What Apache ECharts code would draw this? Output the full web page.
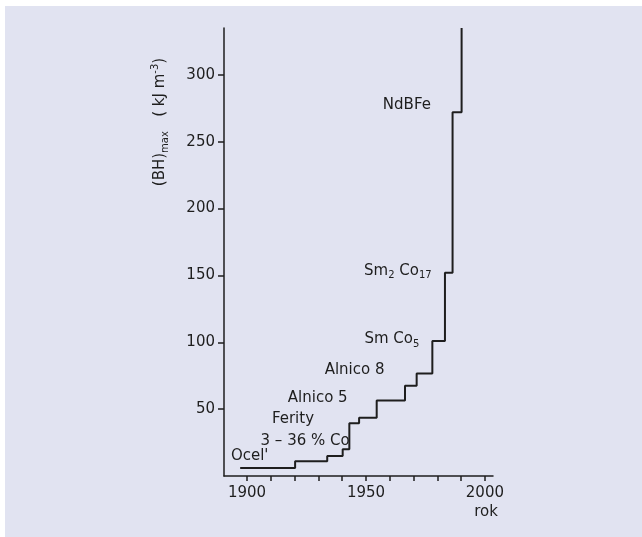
<!DOCTYPE html>
<html lang="sk">
  <head>
    <meta charset="UTF-8" />
    <title>(BH)max</title>
    <script src="https://cdn.jsdelivr.net/npm/echarts@6/dist/echarts.min.js"></script>
    <style>
      html, body { margin: 0; padding: 0; background: #fff; overflow: hidden; }
      .panel {
        position: absolute;
        left: 5px; top: 6px;
        width: 637px; height: 531px;
        background: #e1e3f1;
      }
      .echarts {
        position: absolute;
        left: 0; top: 0;
        width: 642px;
        height: 537px;
      }
    </style>
  </head>
  <body>
    <div class="panel"></div>
    <div class="echarts"></div>
    <script>
      // rok a (BH)max v kJ/m3, schodovita krivka
      const years = [1897.1, 1920.2, 1933.7, 1940.2, 1943.0, 1947.1, 1954.5, 1966.4, 1971.3, 1977.9, 1983.2, 1986.4, 1990.2];
      const bhMax = [6, 11, 15, 20, 39.5, 43.5, 56.5, 67.5, 76.7, 101, 152, 272, 335];

      const xTicks = [1900, 1910, 1920, 1930, 1940, 1950, 1960, 1970, 1980, 1990, 2000];
      const xLabels = [1900, 1950, 2000];
      const yTicks = [50, 100, 150, 200, 250, 300];

      // materialy (rich text pre indexy)
      const notes = ['NdBFe', 'Sm{sub|2} Co{sub|17}', 'Sm Co{sub|5}', 'Alnico 8', 'Alnico 5', 'Ferity', '3 – 36 % Co', "Ocel'"];
      const noteAt = [
        [1967.2, 277], [1963.4, 153.5], [1960.9, 102.5], [1945.2, 79.3],
        [1929.7, 58.3], [1919.3, 42.3], [1924.4, 26.4], [1901.1, 14.6]
      ];

      const ink = '#1e1e1e';
      const font = 'DejaVu Sans';
      const rich = {
        sub: { fontSize: 10, lineHeight: 10, verticalAlign: 'bottom', color: ink, fontFamily: font },
        sup: { fontSize: 10, lineHeight: 10, verticalAlign: 'top', color: ink, fontFamily: font }
      };

      const myCharts = echarts.init(document.querySelector('.echarts'));
      const option = {
        animation: false,
        grid: { left: 224, top: 28, right: 149, bottom: 61 },
        xAxis: {
          type: 'value',
          min: 1890.3,
          max: 2003.4,
          splitLine: { show: false },
          axisLine: { show: true, lineStyle: { color: ink, width: 1.5 } },
          axisTick: { show: true, length: 5, customValues: xTicks, lineStyle: { color: ink, width: 1.5 } },
          axisLabel: {
            customValues: xLabels, margin: 10, fontSize: 15, fontFamily: font, color: ink,
            formatter: v => String(v)
          }
        },
        yAxis: {
          type: 'value',
          min: 0,
          max: 335,
          splitLine: { show: false },
          axisLine: { show: true, lineStyle: { color: ink, width: 1.5 } },
          axisTick: { show: true, length: 6, customValues: yTicks, lineStyle: { color: ink, width: 1.5 } },
          axisLabel: { customValues: yTicks, margin: 9, fontSize: 15, fontFamily: font, color: ink }
        },
        graphic: [
          {
            type: 'text',
            x: 160, y: 122,
            rotation: Math.PI / 2,
            style: {
              text: '(BH){sub|max}   ( kJ m{sup|-3})',
              rich: rich,
              fontSize: 15, lineHeight: 20, fontFamily: font, fill: ink,
              textAlign: 'center', textVerticalAlign: 'middle'
            }
          },
          {
            type: 'text',
            x: 486, y: 512,
            style: {
              text: 'rok', fontSize: 15, fontFamily: font, fill: ink,
              textAlign: 'center', textVerticalAlign: 'middle'
            }
          }
        ],
        series: [
          {
            type: 'line',
            step: 'end',
            showSymbol: false,
            lineStyle: { color: ink, width: 2 },
            data: years.map((y, i) => [y, bhMax[i]])
          },
          {
            type: 'scatter',
            symbolSize: 0,
            silent: true,
            itemStyle: { opacity: 1 },
            label: {
              show: true,
              position: 'inside',
              formatter: p => p.name,
              fontSize: 15, lineHeight: 20, fontFamily: font, color: ink,
              rich: rich
            },
            data: notes.map((t, i) => ({ name: t, value: noteAt[i] }))
          }
        ]
      };
      myCharts.setOption(option);
    </script>
  </body>
</html>
